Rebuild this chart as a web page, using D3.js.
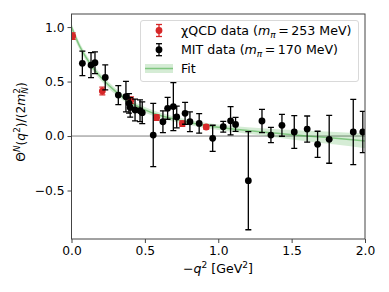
<!DOCTYPE html>
<html>
<head>
<meta charset="utf-8">
<script src="https://cdn.jsdelivr.net/npm/d3@7"></script>
<style>
  body { margin: 0; background: #fff; }
  svg { font-family: "DejaVu Sans", sans-serif; }
</style>
</head>
<body>
<svg id="chart" width="389" height="292"></svg>
<script>
// chiQCD points (m_pi = 253 MeV)
var chiX = [0.008, 0.21, 0.405, 0.58, 0.755, 0.918];
var chiY = [0.917, 0.413, 0.33, 0.17, 0.113, 0.083];
var chiErr = [0.03, 0.035, 0.03, 0.025, 0.025, 0.02];

// MIT points (m_pi = 170 MeV)
var mitX = [0.074, 0.133, 0.16, 0.23, 0.319, 0.371, 0.392, 0.40, 0.433, 0.467, 0.482,
            0.557, 0.623, 0.655, 0.694, 0.717, 0.774, 0.807, 0.87, 0.962, 1.034, 1.084,
            1.118, 1.205, 1.298, 1.359, 1.434, 1.518, 1.606, 1.677, 1.756, 1.92, 1.985];
var mitY = [0.667, 0.651, 0.673, 0.538, 0.376, 0.361, 0.30, 0.263, 0.239, 0.232, 0.214,
            0.009, 0.131, 0.254, 0.27, 0.175, 0.208, 0.131, 0.116, -0.021, 0.085, 0.14,
            0.107, -0.41, 0.138, 0.009, 0.098, 0.037, 0.064, -0.076, -0.03, 0.037, 0.037];
var mitErr = [0.112, 0.115, 0.1, 0.115, 0.087, 0.14, 0.09, 0.09, 0.1, 0.1, 0.1,
              0.29, 0.1, 0.1, 0.22, 0.1, 0.1, 0.09, 0.09, 0.12, 0.05, 0.13,
              0.065, 0.45, 0.107, 0.07, 0.1, 0.15, 0.12, 0.12, 0.22, 0.3, 0.19];

// fit curve and its band half-width
var fitX = [0, 0.05, 0.1, 0.15, 0.2, 0.3, 0.4, 0.5, 0.6, 0.7, 0.8, 1.0, 1.2, 1.4, 1.6, 1.8, 2.0];
var fitY = [1.0, 0.84, 0.72, 0.62, 0.54, 0.41, 0.31, 0.24, 0.19, 0.155, 0.125, 0.08, 0.05, 0.025, 0.0, -0.02, -0.045];
var fitErr = [0.035, 0.033, 0.031, 0.03, 0.03, 0.029, 0.028, 0.027, 0.025, 0.024, 0.024, 0.025, 0.03, 0.038, 0.048, 0.058, 0.068];

var xTicks = [0, 0.5, 1.0, 1.5, 2.0];
var yTicks = [-0.5, 0, 0.5, 1.0];

// legend labels: [text, math italic, subscript, '=', value, unit]
var legendLabels = [
  ['\u03c7QCD data (', 'm', '\u03c0', '=', '253', 'MeV)'],
  ['MIT data (', 'm', '\u03c0', '=', '170', 'MeV)']
];
var legendColors = ['#d62728', '#000'];

var svg = d3.select('#chart');
var pLeft = 71.5, pRight = 365, pTop = 14, pBottom = 239;

var x = d3.scaleLinear().domain([0, 2]).range([pLeft, pRight]);
var y = d3.scaleLinear().domain([-0.945, 1.12]).range([pBottom, pTop]);

svg.append('defs').append('clipPath').attr('id', 'clip')
  .append('rect').attr('x', pLeft).attr('y', pTop).attr('width', pRight - pLeft).attr('height', pBottom - pTop);

var plot = svg.append('g').attr('clip-path', 'url(#clip)');

// zero line
plot.append('line')
  .attr('x1', pLeft).attr('x2', pRight)
  .attr('y1', y(0)).attr('y2', y(0))
  .attr('stroke', '#808080').attr('stroke-width', 1);

var fitData = fitX.map((d, i) => ({x: d, y: fitY[i], e: fitErr[i]}));

plot.append('path')
  .datum(fitData)
  .attr('fill', '#2ca02c').attr('fill-opacity', 0.2)
  .attr('d', d3.area().curve(d3.curveMonotoneX)
    .x(d => x(d.x)).y0(d => y(d.y - d.e)).y1(d => y(d.y + d.e)));

plot.append('path')
  .datum(fitData)
  .attr('fill', 'none').attr('stroke', '#2ca02c').attr('stroke-opacity', 0.5).attr('stroke-width', 1.5)
  .attr('d', d3.line().curve(d3.curveMonotoneX).x(d => x(d.x)).y(d => y(d.y)));

function drawErrors(xs, ys, es, color) {
  var data = xs.map((d, i) => ({x: d, y: ys[i], e: es[i]}));
  var g = plot.append('g').attr('stroke', color).attr('stroke-width', 1.3);
  data.forEach(d => {
    var cx = x(d.x);
    g.append('line').attr('x1', cx).attr('x2', cx).attr('y1', y(d.y - d.e)).attr('y2', y(d.y + d.e));
    g.append('line').attr('x1', cx - 3).attr('x2', cx + 3).attr('y1', y(d.y - d.e)).attr('y2', y(d.y - d.e));
    g.append('line').attr('x1', cx - 3).attr('x2', cx + 3).attr('y1', y(d.y + d.e)).attr('y2', y(d.y + d.e));
  });
  plot.append('g').selectAll('circle')
    .data(data).enter().append('circle')
      .attr('cx', d => x(d.x)).attr('cy', d => y(d.y))
      .attr('r', 3.4).attr('fill', color);
}

drawErrors(chiX, chiY, chiErr, '#d62728');
drawErrors(mitX, mitY, mitErr, '#000');

// axes
var xAxis = svg.append('g').attr('transform', 'translate(0,' + pBottom + ')')
  .call(d3.axisBottom(x).tickValues(xTicks).tickFormat(d3.format('.1f')).tickSizeOuter(0).tickSize(4).tickPadding(3));
var yAxis = svg.append('g').attr('transform', 'translate(' + pLeft + ',0)')
  .call(d3.axisLeft(y).tickValues(yTicks).tickFormat(d => d3.format('.1f')(d).replace('-', '\u2212')).tickSizeOuter(0).tickSize(4).tickPadding(3));

[xAxis, yAxis].forEach(a => {
  a.select('.domain').remove();
  a.selectAll('line').attr('stroke', '#444');
  a.selectAll('text').attr('font-size', 12.3).attr('fill', '#000').attr('font-family', 'DejaVu Sans');
});

// frame
svg.append('rect')
  .attr('x', pLeft).attr('y', pTop).attr('width', pRight - pLeft).attr('height', pBottom - pTop)
  .attr('fill', 'none').attr('stroke', '#444').attr('stroke-width', 1);

// x label
var xl = svg.append('text').attr('x', 218).attr('y', 273)
  .attr('text-anchor', 'middle').attr('font-size', 12.6);
xl.append('tspan').text('\u2212');
xl.append('tspan').attr('font-style', 'italic').text('q');
xl.append('tspan').attr('font-size', 9).attr('dy', -4.8).text('2');
xl.append('tspan').attr('dy', 4.8).text(' [GeV');
xl.append('tspan').attr('font-size', 9).attr('dy', -4.8).text('2');
xl.append('tspan').attr('dy', 4.8).text(']');

// y label
var yl = svg.append('text')
  .attr('transform', 'translate(25,122) rotate(-90)')
  .attr('text-anchor', 'middle').attr('font-size', 12.3);
yl.append('tspan').text('\u0398');
yl.append('tspan').attr('font-size', 8.8).attr('font-style', 'italic').attr('dy', -4.6).text('N');
yl.append('tspan').attr('dy', 4.6).text('(');
yl.append('tspan').attr('font-style', 'italic').text('q');
yl.append('tspan').attr('font-size', 8.8).attr('dy', -4.6).text('2');
yl.append('tspan').attr('dy', 4.6).text(')/(2');
yl.append('tspan').attr('font-style', 'italic').text('m');
yl.append('tspan').attr('font-size', 8.8).attr('dy', -4.6).text('2');
yl.append('tspan').attr('font-size', 8.8).attr('font-style', 'italic').attr('dx', -5.6).attr('dy', 7.6).text('N');
yl.append('tspan').attr('dy', -3).text(')');

// legend
var lg = svg.append('g');
lg.append('rect').attr('x', 140.5).attr('y', 20.5).attr('width', 218).attr('height', 61)
  .attr('rx', 2.5).attr('fill', '#fff').attr('fill-opacity', 0.8).attr('stroke', '#d9d9d9');

legendLabels.forEach((lab, i) => {
  var cy = 30.5 + i * 19.2, cx = 159, color = legendColors[i];
  lg.append('line').attr('x1', cx).attr('x2', cx).attr('y1', cy - 6).attr('y2', cy + 6).attr('stroke', color).attr('stroke-width', 1.3);
  lg.append('line').attr('x1', cx - 3).attr('x2', cx + 3).attr('y1', cy - 6).attr('y2', cy - 6).attr('stroke', color).attr('stroke-width', 1.3);
  lg.append('line').attr('x1', cx - 3).attr('x2', cx + 3).attr('y1', cy + 6).attr('y2', cy + 6).attr('stroke', color).attr('stroke-width', 1.3);
  lg.append('circle').attr('cx', cx).attr('cy', cy).attr('r', 3.4).attr('fill', color);

  var t = lg.append('text').attr('x', 181).attr('y', cy + 4.6).attr('font-size', 12.6);
  t.append('tspan').text(lab[0]);
  t.append('tspan').attr('font-style', 'italic').text(lab[1]);
  t.append('tspan').attr('font-size', 9).attr('font-style', 'italic').attr('dy', 2.6).text(lab[2]);
  t.append('tspan').attr('dy', -2.6).attr('dx', 2.5).text(lab[3]);
  t.append('tspan').attr('dx', 2.5).text(lab[4]);
  t.append('tspan').attr('dx', 4).text(lab[5]);
});
lg.append('rect').attr('x', 145).attr('y', 64).attr('width', 28).attr('height', 9)
  .attr('fill', '#2ca02c').attr('fill-opacity', 0.2);
lg.append('line').attr('x1', 145).attr('x2', 173).attr('y1', 68.5).attr('y2', 68.5)
  .attr('stroke', '#2ca02c').attr('stroke-opacity', 0.5).attr('stroke-width', 1.5);
lg.append('text').attr('x', 181).attr('y', 73).attr('font-size', 12.6).text('Fit');
</script>
</body>
</html>
